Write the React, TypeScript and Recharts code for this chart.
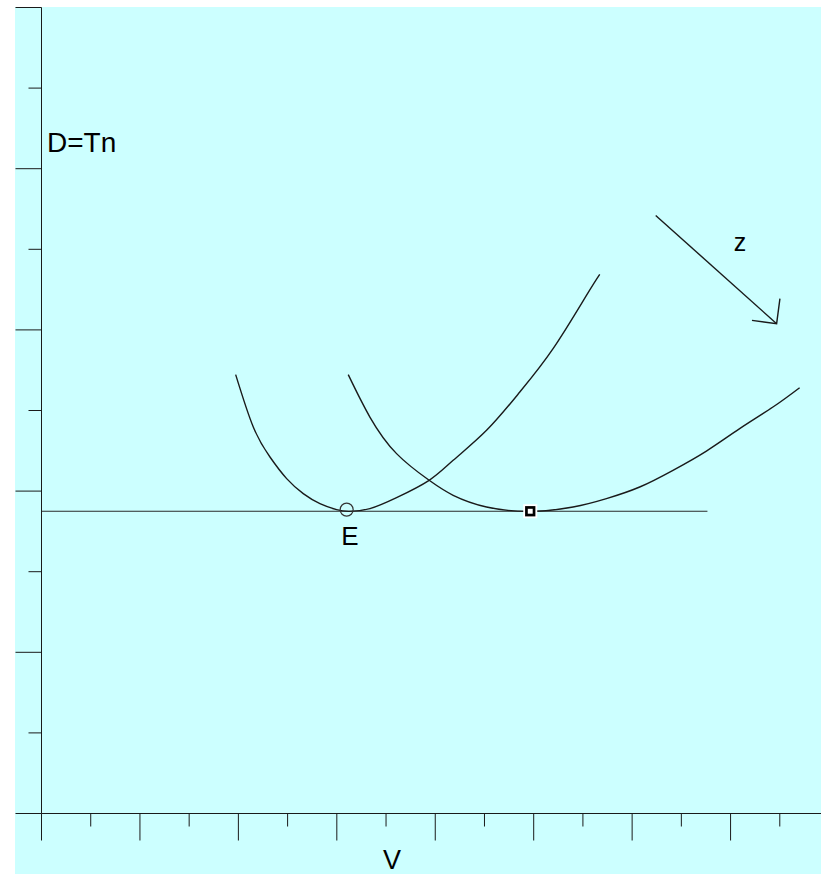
import React from 'react';
import { ComposedChart, Line, Scatter, XAxis, YAxis } from 'recharts';

// axis ticks (major every 2 units, minor in between)
const xTicks = [0, 1, 2, 3, 4, 5, 6, 7, 8, 9, 10, 11, 12, 13, 14, 15, 16];
const yTicks = [0, 1, 2, 3, 4, 5, 6, 7, 8, 9, 10];

// first U-shaped curve (minimum at E)
const curveA = [
  { x: 3.945, y: 5.445 },
  { x: 4.303, y: 4.795 },
  { x: 4.642, y: 4.423 },
  { x: 4.981, y: 4.155 },
  { x: 5.318, y: 3.969 },
  { x: 5.657, y: 3.845 },
  { x: 5.996, y: 3.77 },
  { x: 6.25, y: 3.749 },
  { x: 6.672, y: 3.783 },
  { x: 7.214, y: 3.919 },
  { x: 7.876, y: 4.134 },
  { x: 8.364, y: 4.382 },
  { x: 9.042, y: 4.754 },
  { x: 9.718, y: 5.229 },
  { x: 10.394, y: 5.767 },
  { x: 11.072, y: 6.428 },
  { x: 11.342, y: 6.689 },
];

// second U-shaped curve (shifted right)
const curveB = [
  { x: 6.232, y: 5.445 },
  { x: 6.672, y: 4.919 },
  { x: 7.214, y: 4.465 },
  { x: 7.876, y: 4.134 },
  { x: 8.364, y: 3.948 },
  { x: 9.042, y: 3.803 },
  { x: 9.921, y: 3.749 },
  { x: 10.8, y: 3.803 },
  { x: 11.478, y: 3.907 },
  { x: 12.154, y: 4.051 },
  { x: 12.83, y: 4.258 },
  { x: 13.509, y: 4.497 },
  { x: 14.185, y: 4.775 },
  { x: 14.861, y: 5.043 },
  { x: 15.403, y: 5.283 },
];

// horizontal level line
const level = [
  { x: 0, y: 3.75 },
  { x: 13.53, y: 3.75 },
];

// points E and the second minimum
const pointE = [{ x: 6.2, y: 3.77 }];
const pointB = [{ x: 9.93, y: 3.75 }];

// arrow z: shaft and head
const arrowShaft = [
  { x: 12.479, y: 7.42 },
  { x: 14.936, y: 6.077 },
];
const arrowHead = [
  { x: 15.003, y: 6.387 },
  { x: 14.936, y: 6.077 },
  { x: 14.435, y: 6.118 },
];

const INK = '#1a1a1a';
const FONT = '"Liberation Sans", Arial, sans-serif';

const YTick = (props: any) => {
  const { x, y, payload } = props;
  const len = payload.value % 2 === 0 ? 26 : 13;
  return <line x1={x - len} y1={y} x2={x} y2={y} stroke={INK} strokeWidth={1} />;
};

const XTick = (props: any) => {
  const { x, y, payload } = props;
  const len = payload.value % 2 === 0 ? 27 : 13;
  return <line x1={x} y1={y} x2={x} y2={y + len} stroke={INK} strokeWidth={1} />;
};

const CircleDot = (props: any) => (
  <circle cx={props.cx} cy={props.cy} r={6.5} fill="none" stroke="#333" strokeWidth={1.2} />
);

const SquareDot = (props: any) => (
  <g>
    <rect x={props.cx - 7} y={props.cy - 7} width={14} height={14} fill="#fff" />
    <rect x={props.cx - 3.8} y={props.cy - 3.8} width={7.6} height={7.6} fill="#fff" stroke="#000" strokeWidth={2.7} />
  </g>
);

export default function App() {
  return (
    <div style={{ position: 'absolute', left: 0, top: 0, width: 821, height: 874, overflow: 'hidden', background: '#fff' }}>
      <div style={{ position: 'absolute', left: 15, top: 7, width: 806, height: 867, background: '#CCFFFF' }} />
      <div style={{ position: 'absolute', left: 0, top: 0 }}>
        <ComposedChart width={829} height={874} margin={{ top: 7.5, right: 0, bottom: 30.5, left: 11.5 }}>
          <XAxis
            type="number"
            dataKey="x"
            domain={[0, 16]}
            ticks={xTicks}
            interval={0}
            height={30}
            tickSize={0}
            tickMargin={0}
            tickLine={false}
            tick={<XTick />}
            axisLine={{ stroke: INK }}
            allowDataOverflow
          />
          <YAxis
            type="number"
            dataKey="y"
            domain={[0, 10]}
            ticks={yTicks}
            interval={0}
            width={30}
            tickSize={0}
            tickMargin={0}
            tickLine={false}
            tick={<YTick />}
            axisLine={{ stroke: INK }}
            allowDataOverflow
          />
          <Line data={level} dataKey="y" type="linear" stroke="#2a2a2a" strokeWidth={1.1} dot={false} isAnimationActive={false} />
          <Line data={curveA} dataKey="y" type="natural" stroke={INK} strokeWidth={1.4} dot={false} isAnimationActive={false} />
          <Line data={curveB} dataKey="y" type="natural" stroke={INK} strokeWidth={1.4} dot={false} isAnimationActive={false} />
          <Line data={arrowShaft} dataKey="y" type="linear" stroke={INK} strokeWidth={1.4} dot={false} isAnimationActive={false} />
          <Line data={arrowHead} dataKey="y" type="linear" stroke={INK} strokeWidth={1.4} dot={false} isAnimationActive={false} />
          <Scatter data={pointE} dataKey="y" shape={<CircleDot />} isAnimationActive={false} />
          <Scatter data={pointB} dataKey="y" shape={<SquareDot />} isAnimationActive={false} />
        </ComposedChart>
      </div>
      <svg width={821} height={874} style={{ position: 'absolute', left: 0, top: 0, pointerEvents: 'none' }}>
        <g fontFamily={FONT} fill="#000">
          <text x={47} y={152} fontSize={28}>D=Tn</text>
          <text x={350} y={545} fontSize={26} textAnchor="middle">E</text>
          <text x={740} y={251} fontSize={25} textAnchor="middle">z</text>
          <text x={392} y={869} fontSize={27} textAnchor="middle">V</text>
        </g>
      </svg>
    </div>
  );
}
